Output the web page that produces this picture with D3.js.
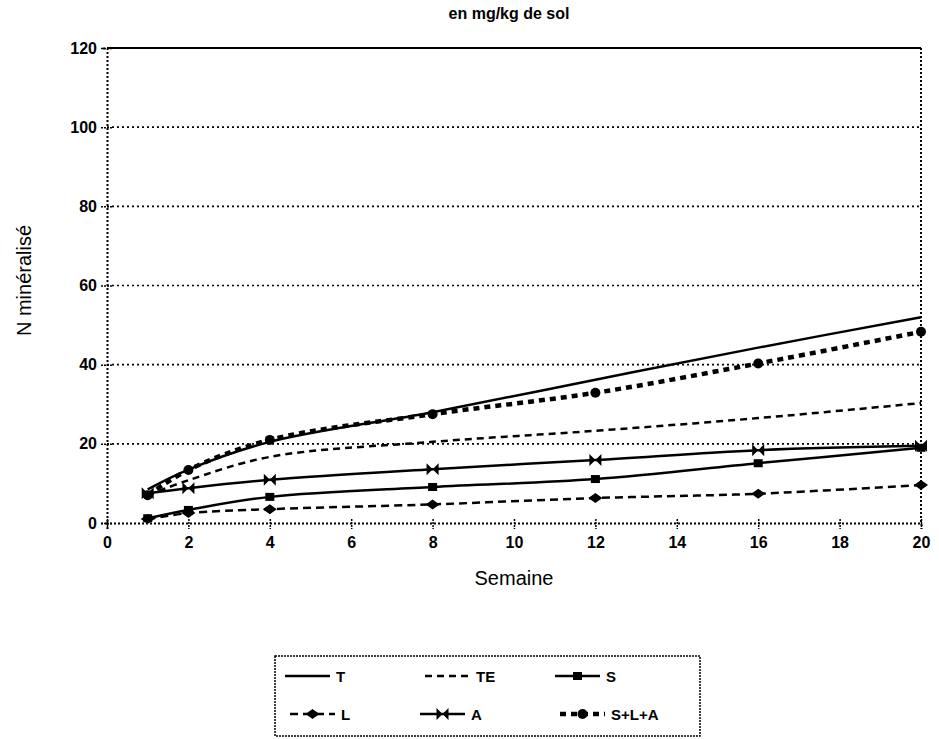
<!DOCTYPE html>
<html>
<head>
<meta charset="utf-8">
<script src="https://cdn.jsdelivr.net/npm/d3@7"></script>
<style>
  body { margin: 0; background: #fff; }
  text { font-family: "Liberation Sans", Arial, sans-serif; fill: #000; }
</style>
</head>
<body>
<svg width="939" height="739"></svg>
<script>
var weeks = [1, 2, 4, 8, 12, 16, 20];
var seriesT   = [8.5, 13.5, 20.5, 28, 36.2, 44.3, 52];
var seriesTE  = [7, 10.8, 16.7, 20.5, 23.3, 26.5, 30.3];
var seriesS   = [1.2, 3.3, 6.6, 9.1, 11.1, 15.1, 19];
var seriesL   = [1, 2.5, 3.5, 4.7, 6.3, 7.4, 9.6];
var seriesA   = [7.5, 8.8, 10.9, 13.6, 15.9, 18.4, 19.5];
var seriesSLA = [7, 13.4, 21, 27.5, 32.9, 40.3, 48.3];
var xTicks = [0, 2, 4, 6, 8, 10, 12, 14, 16, 18, 20];
var yTicks = [0, 20, 40, 60, 80, 100, 120];

var series = [
  {name: "T",     values: seriesT,   dash: null,   width: 2.5, marker: null},
  {name: "TE",    values: seriesTE,  dash: "7,5",  width: 2.5, marker: null},
  {name: "S",     values: seriesS,   dash: null,   width: 2.5, marker: "square"},
  {name: "L",     values: seriesL,   dash: "8,5",  width: 2.5, marker: "diamond"},
  {name: "A",     values: seriesA,   dash: null,   width: 2.5, marker: "bowtie"},
  {name: "S+L+A", values: seriesSLA, dash: "6,5",  width: 4.5, marker: "circle"}
];

var svg = d3.select("svg"),
    margin = {top: 48, right: 18, bottom: 216, left: 107},
    width = +svg.attr("width") - margin.left - margin.right,
    height = +svg.attr("height") - margin.top - margin.bottom,
    g = svg.append("g").attr("transform", "translate(" + margin.left + "," + margin.top + ")");

var x = d3.scaleLinear().domain([0, 20]).range([0, width]);
var y = d3.scaleLinear().domain([0, 120]).range([height, 0]);

// title
svg.append("text")
    .attr("x", margin.left + width / 2 - 5)
    .attr("y", 19)
    .attr("text-anchor", "middle")
    .style("font-size", "16px")
    .style("font-weight", "bold")
    .text("en mg/kg de sol");

// gridlines
g.selectAll(".grid")
    .data(yTicks.filter(function(d) { return d > 0 && d < 120; }))
  .enter().append("line")
    .attr("x1", 0).attr("x2", width)
    .attr("y1", function(d) { return y(d); })
    .attr("y2", function(d) { return y(d); })
    .attr("stroke", "#000")
    .attr("stroke-width", 1.6)
    .attr("stroke-dasharray", "2,3");

// frame: solid top, dotted right
g.append("line").attr("x1", 0).attr("x2", width).attr("y1", 0).attr("y2", 0)
    .attr("stroke", "#000").attr("stroke-width", 2);
g.append("line").attr("x1", width).attr("x2", width).attr("y1", 0).attr("y2", height)
    .attr("stroke", "#000").attr("stroke-width", 2).attr("stroke-dasharray", "2,2");

var xAxis = g.append("g")
    .attr("transform", "translate(0," + height + ")")
    .call(d3.axisBottom(x).tickValues(xTicks).tickSize(6).tickPadding(8));
var yAxis = g.append("g")
    .call(d3.axisLeft(y).tickValues(yTicks).tickSize(6).tickPadding(4));

[xAxis, yAxis].forEach(function(ax) {
  ax.select(".domain").attr("stroke", "#000").attr("stroke-width", 2).attr("stroke-dasharray", "2,2");
  ax.selectAll(".tick line").attr("stroke", "#000").attr("stroke-width", 1.5).attr("stroke-dasharray", "2,1");
  ax.selectAll(".tick text").style("font-size", "16px").style("font-weight", "bold");
});
yAxis.selectAll(".tick line").attr("x2", 6).attr("x1", -6);
xAxis.selectAll(".tick line").attr("y1", -4);

// axis titles
svg.append("text")
    .attr("x", margin.left + width / 2)
    .attr("y", 585)
    .attr("text-anchor", "middle")
    .style("font-size", "20px")
    .text("Semaine");
svg.append("text")
    .attr("transform", "translate(31," + (margin.top + height / 2 - 5) + ") rotate(-90)")
    .attr("text-anchor", "middle")
    .style("font-size", "20px")
    .text("N minéralisé");

function drawMarker(sel, type, cx, cy) {
  if (type === "square") {
    sel.append("rect").attr("x", cx - 4.5).attr("y", cy - 4).attr("width", 9).attr("height", 8).attr("fill", "#000");
  } else if (type === "diamond") {
    sel.append("path").attr("d", "M" + cx + "," + (cy - 5) + "L" + (cx + 7) + "," + cy + "L" + cx + "," + (cy + 5) + "L" + (cx - 7) + "," + cy + "Z").attr("fill", "#000");
  } else if (type === "bowtie") {
    sel.append("path").attr("d", "M" + (cx - 6) + "," + (cy - 6) + "L" + (cx + 6) + "," + (cy + 6) + "L" + (cx + 6) + "," + (cy - 6) + "L" + (cx - 6) + "," + (cy + 6) + "Z")
      .attr("fill", "#000");
  } else if (type === "circle") {
    sel.append("circle").attr("cx", cx).attr("cy", cy).attr("r", 5).attr("fill", "#000");
  }
}

var line = d3.line()
    .x(function(d) { return x(d[0]); })
    .y(function(d) { return y(d[1]); })
    .curve(d3.curveCatmullRom.alpha(0.5));

series.forEach(function(s) {
  var pts = weeks.map(function(w, i) { return [w, s.values[i]]; });
  g.append("path")
      .datum(pts)
      .attr("d", line)
      .attr("fill", "none")
      .attr("stroke", "#000")
      .attr("stroke-width", s.width)
      .attr("stroke-dasharray", s.dash);
  if (s.marker) {
    var mg = g.append("g");
    pts.forEach(function(p) { drawMarker(mg, s.marker, x(p[0]), y(p[1])); });
  }
});

// legend
var legend = svg.append("g");
legend.append("rect")
    .attr("x", 275).attr("y", 656).attr("width", 425).attr("height", 80)
    .attr("fill", "none").attr("stroke", "#000").attr("stroke-width", 1.5).attr("stroke-dasharray", "2,1");

var legendPos = [
  {x: 285, y: 676}, {x: 425, y: 676}, {x: 555, y: 676},
  {x: 290, y: 714}, {x: 420, y: 714}, {x: 560, y: 714}
];
series.forEach(function(s, i) {
  var p = legendPos[i], len = 45;
  var lg = legend.append("g");
  lg.append("line")
      .attr("x1", p.x).attr("x2", p.x + len).attr("y1", p.y).attr("y2", p.y)
      .attr("stroke", "#000").attr("stroke-width", s.width)
      .attr("stroke-dasharray", s.dash);
  if (s.marker) drawMarker(lg, s.marker, p.x + len / 2, p.y);
  lg.append("text")
      .attr("x", p.x + len + 6).attr("y", p.y + 6)
      .style("font-size", "15px").style("font-weight", "bold")
      .text(s.name);
});
</script>
</body>
</html>
